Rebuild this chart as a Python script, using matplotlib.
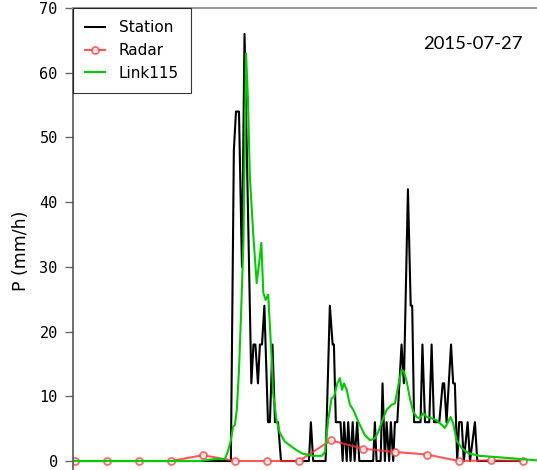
import matplotlib.pyplot as plt

# time in minutes since start of the window
radar_t = [0, 15, 30, 45, 60, 75, 90, 105, 120, 135, 150, 165, 180, 195, 210]
radar_p = [0, 0, 0, 0, 0.9, 0, 0, 0, 3.2, 1.9, 1.4, 1.0, 0, 0.1, 0]

# station (tipping bucket) - corners of the step-like line
station_t = [0, 73.1, 74.5, 75.5, 76.9, 78.3, 79.5, 82.7, 83.7, 84.6, 85.8, 86.7, 87.7,
             88.8, 90.5, 91.4, 92.6, 93.8, 95.2, 96.6, 109.7, 110.6, 111.7, 117.5,
             119.5, 120.8, 121.4, 122.3, 124.5, 125.5, 126.2, 127.4, 128.1, 129.2,
             130.2, 131.1, 132.3, 133.3, 139.8, 140.6, 141.4, 143.3, 144.2, 145.3,
             146.1, 147.3, 148.1, 149.2, 150.0, 151.1, 153.1, 154.2, 156.1, 157.4,
             158.1, 159.0, 162.0, 162.9, 164.1, 166.1, 167.2, 168.3, 170.8, 172.4,
             173.1, 174.2, 176.3, 177.3, 178.1, 179.2, 180.1, 181.3, 182.3, 184.1,
             185.2, 187.5, 188.6, 210]
station_p = [0, 0, 48, 54, 54, 30, 66, 12, 18, 18, 12, 18, 18,
             24, 6, 6, 18, 6, 6, 0, 0, 6, 0, 0,
             24, 18, 18, 6, 6, 0, 6, 0, 6, 0,
             6, 0, 6, 0, 0, 6, 0, 0, 12, 0,
             6, 0, 6, 0, 6, 6, 18, 12, 42, 24,
             24, 6, 6, 18, 6, 6, 18, 6, 6, 12,
             12, 6, 18, 12, 12, 0, 6, 6, 0, 6,
             0, 6, 0, 0]

# microwave link estimate
link_t = [0, 58.6, 65.6, 70.3, 71.7, 73.1, 74.1, 75.0, 75.9, 76.9, 77.8, 79.0, 80.2,
          81.1, 82.0, 83.6, 85.2, 86.5, 87.4, 88.3, 89.4, 90.6, 92.2, 92.9, 94.5,
          96.1, 98.4, 101.6, 104.7, 106.9, 109.2, 111.6, 115.8, 117.2, 118.7, 120.3,
          121.4, 123.0, 124.2, 125.2, 126.1, 127.4, 128.9, 130.5, 132.8, 135.9,
          138.3, 140.6, 142.2, 144.5, 146.1, 148.5, 150.0, 151.5, 153.1, 154.2,
          155.5, 157.0, 158.6, 160.2, 161.7, 163.3, 164.9, 167.2, 169.5, 171.9,
          173.4, 175.0, 176.1, 177.3, 178.9, 181.3, 184.4, 189.8, 197.7, 205.5, 216.4]
link_p = [0, 0, 0.3, 0.3, 1.5, 3.2, 5.3, 5.6, 8, 14, 22, 34, 63,
          56, 44, 35, 27.5, 31, 33.7, 26, 24.9, 25.7, 16, 10.5, 6.3,
          4.3, 3, 2.2, 1.5, 1.1, 1.0, 0.8, 0.8, 1.4, 6.3, 9.7,
          9.9, 12, 12.8, 11, 12, 11, 8.7, 7.9, 6.1, 4,
          3.2, 3.5, 4.5, 6.6, 7.9, 8.7, 8.9, 11.5, 14.1, 13.8,
          12.3, 9.7, 7.6, 6.8, 6.6, 7.4, 6.8, 6.6, 6.3, 5.6,
          5.1, 6.1, 6.8, 5.8, 3.2, 2, 1.2, 0.8, 0.6, 0.4, 0.1]

fig = plt.figure(figsize=(5.37, 4.70), dpi=100)
ax = fig.add_axes([73 / 537, 0, 1 - 73 / 537, 1 - 8 / 470])

ax.plot(station_t, station_p, color='black', lw=1.5, label='Station')
ax.plot(radar_t, radar_p, color='#ff3030', lw=1.5, alpha=0.8, marker='o', ms=5,
        mfc='white', mec='#ff4040', mew=1.3, label='Radar')
ax.plot(link_t, link_p, color='#00cc00', lw=1.5, label='Link115')

ax.set_xlim(-0.9, 216.6)
ax.set_ylim(-1.39, 70)
ax.set_yticks(range(0, 71, 10))
ax.set_xticks([])
for lab in ax.get_yticklabels():
    lab.set_family('DejaVu Sans Mono')
ax.tick_params(axis='y', labelsize=11, length=6, width=1, color='#666666', pad=5)
ax.spines['right'].set_visible(False)
ax.spines['bottom'].set_visible(False)
ax.spines['top'].set_color('#999999')
ax.spines['top'].set_linewidth(1.5)
ax.spines['left'].set_color('#555555')
ax.spines['left'].set_linewidth(1.2)

ax.set_ylabel('P (mm/h)', fontsize=12.5)
ax.yaxis.set_label_coords(-0.093, 0.474)
ax.text(0.968, 0.922, '2015-07-27', transform=ax.transAxes, ha='right', va='center',
        fontsize=13.3, family='Lato')

leg = ax.legend(loc='upper left', borderaxespad=0, fancybox=False, fontsize=11,
                handlelength=1.3, handletextpad=0.9, borderpad=0.8, labelspacing=0.5)
leg.get_frame().set_edgecolor('black')
leg.get_frame().set_linewidth(0.8)

fig.savefig('out.png', dpi=100)
